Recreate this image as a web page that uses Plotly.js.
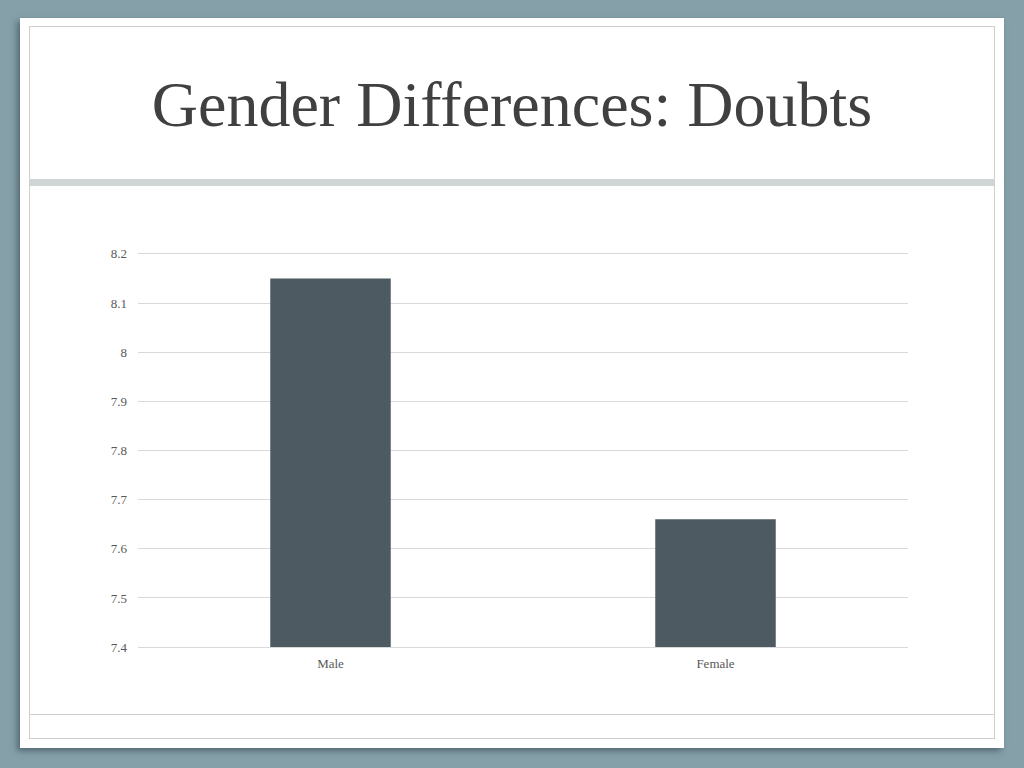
<!DOCTYPE html>
<html>
<head>
<meta charset="utf-8">
<script src="https://cdn.plot.ly/plotly-3.0.1.min.js"></script>
<style>
html,body{margin:0;padding:0;width:1024px;height:768px;overflow:hidden;background:#86a0a9;}
#slide{position:absolute;left:20px;top:18px;width:984px;height:730px;background:#ffffff;box-shadow:-3px 3px 6px rgba(40,60,70,0.55);}
#inner{position:absolute;left:29px;top:26px;width:964px;height:711px;border:1px solid #cfcfcf;}
#band{position:absolute;left:30px;top:179px;width:964px;height:7px;background:#d0d5d5;}
#foot{position:absolute;left:30px;top:714px;width:964px;height:1px;background:#cfcfcf;}
#chart{position:absolute;left:0;top:0;width:1024px;height:768px;}
</style>
</head>
<body>
<div id="slide"></div>
<div id="inner"></div>
<div id="band"></div>
<div id="foot"></div>
<div id="chart"></div>
<script>
const titleText = "Gender Differences: Doubts";
const categories = ["Male", "Female"];
const values = [8.15, 7.66];
const axisMin = 7.4;
const axisMax = 8.2;
const tickValues = [7.4, 7.5, 7.6, 7.7, 7.8, 7.9, 8, 8.1, 8.2];
const tickLabels = ["7.4", "7.5", "7.6", "7.7", "7.8", "7.9", "8", "8.1", "8.2"];

const data = [{
  type: "bar",
  x: categories,
  y: values.map(v => v - axisMin),
  base: axisMin,
  marker: {color: "#4d5a61"},
  hoverinfo: "none"
}];

const layout = {
  width: 1024, height: 768,
  paper_bgcolor: "rgba(0,0,0,0)",
  plot_bgcolor: "rgba(0,0,0,0)",
  margin: {l: 138, r: 116, t: 249, b: 116, pad: 0},
  showlegend: false,
  bargap: 0.687,
  title: {
    text: titleText,
    font: {family: "Liberation Serif, serif", size: 64, color: "#404040"},
    x: 0.5, xanchor: "center",
    yref: "container", y: 1 - 104/768, yanchor: "middle"
  },
  xaxis: {
    showgrid: false, zeroline: false, showline: false,
    ticks: "", ticklabelstandoff: 2,
    tickfont: {family: "Liberation Serif, serif", size: 13, color: "#595959"},
    fixedrange: true
  },
  yaxis: {
    range: [axisMin - 0.01, axisMax + 0.01],
    tickvals: tickValues,
    ticktext: tickLabels,
    showgrid: true, gridcolor: "#d9d9d9", gridwidth: 1,
    zeroline: false, showline: false, ticks: "",
    ticklabelstandoff: 10,
    tickfont: {family: "Liberation Serif, serif", size: 13, color: "#595959"},
    fixedrange: true
  }
};

Plotly.newPlot("chart", data, layout, {staticPlot: true});
</script>
</body>
</html>
